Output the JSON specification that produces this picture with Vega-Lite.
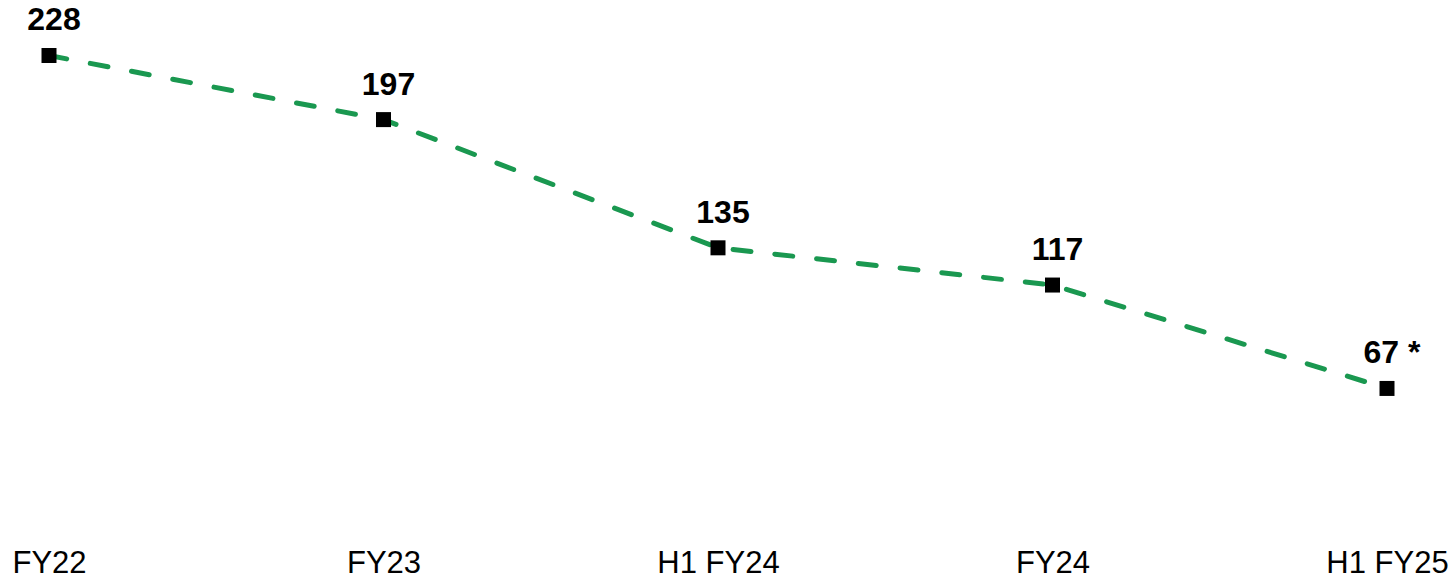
{
  "$schema": "https://vega.github.io/schema/vega-lite/v6.json",
  "autosize": {"type": "none"},
  "width": 1338,
  "height": 517,
  "padding": {"left": 49, "top": 10, "right": 68, "bottom": 51},
  "background": "white",
  "config": {"view": {"stroke": null}, "font": "Liberation Sans"},
  "data": {
    "values": [
      {"period": "FY22", "value": 228, "label": "228"},
      {"period": "FY23", "value": 197, "label": "197"},
      {"period": "H1 FY24", "value": 135, "label": "135"},
      {"period": "FY24", "value": 117, "label": "117"},
      {"period": "H1 FY25", "value": 67, "label": "67 *"}
    ]
  },
  "encoding": {
    "x": {
      "field": "period",
      "type": "ordinal",
      "sort": null,
      "scale": {"type": "point", "padding": 0},
      "axis": {
        "title": null,
        "domain": false,
        "ticks": false,
        "grid": false,
        "labelAngle": 0,
        "labelFont": "Liberation Sans",
        "labelFontSize": 31,
        "labelColor": "#000000",
        "labelPadding": 21,
        "labelOverlap": false,
        "labelFlush": false
      }
    },
    "y": {
      "field": "value",
      "type": "quantitative",
      "scale": {"domain": [0, 250]},
      "axis": null
    }
  },
  "layer": [
    {
      "mark": {"type": "line", "color": "#1a9850", "strokeWidth": 5, "strokeDash": [18, 24], "strokeCap": "round"}
    },
    {
      "mark": {"type": "point", "shape": "square", "filled": true, "color": "#000000", "size": 225, "opacity": 1}
    },
    {
      "mark": {"type": "text", "font": "Liberation Sans", "fontWeight": "bold", "fontSize": 32, "color": "#000000", "dx": 5, "dy": -25, "baseline": "alphabetic", "align": "center"},
      "encoding": {"text": {"field": "label"}}
    }
  ]
}
